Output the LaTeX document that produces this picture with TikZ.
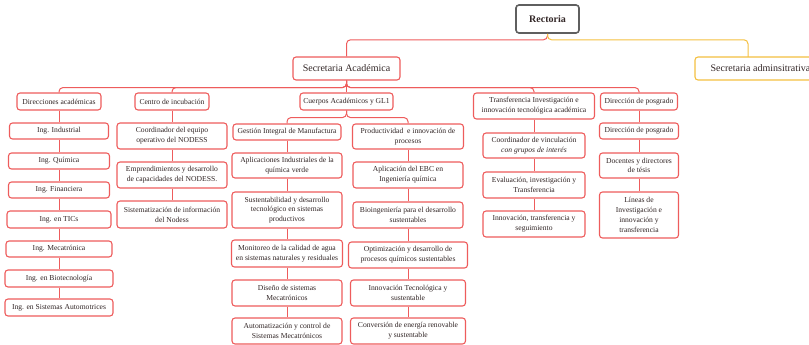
\documentclass[tikz,border=0pt]{standalone}
\usepackage{fontspec}
\setmainfont{Liberation Serif}
\usepackage{xcolor}
\usepackage{tikz}
\usetikzlibrary{positioning}

\definecolor{rojo}{RGB}{238,92,92}
\definecolor{amarillo}{RGB}{244,192,64}
\definecolor{gris}{RGB}{95,95,95}
\definecolor{texto}{RGB}{50,38,38}

\begin{document}
\begin{tikzpicture}
                [x={(1pt,0)}, y={(0,-1pt)},
                 box/.style = {draw=rojo, line width=1.1pt, rounded corners=3pt, fill=white, text=texto, align=center, inner sep=1pt, font=\fontsize{7.6}{9.8}\selectfont},
                 big/.style = {box, font=\fontsize{10}{12}\selectfont},
                 top/.style = {box, draw=gris, line width=1.6pt, font=\bfseries\fontsize{10}{12}\selectfont},
                 sz/.style 2 args = {minimum width=#1pt, minimum height=#2pt},
                 link/.style = {draw=rojo, line width=1pt, rounded corners=4pt}]
                \clip (0,0) rectangle (809,345);
                % Rectoria and the two secretarias
                \node[top, sz={63}{28}] (rect) at (547.5,19) {Rectoria};
                \node[big, sz={107}{23}] (sacad) at (346.5,68.5) {Secretaria Académica};
                \node[big, draw=amarillo, sz={131}{23}] (sadm) at (760.5,68.5) {Secretaria adminsitrativa};
                \coordinate (sadmtop) at (748,57);
                % Areas under Secretaria Academica
                \node[box, sz={84}{17}] (dacad) at (59,101.5) {Direcciones académicas};
                \node[box, sz={74}{17}] (cinc) at (172,101.5) {Centro de incubación};
                \node[box, sz={93}{17}] (cuer) at (346.5,101.5) {Cuerpos Académicos y GL1};
                \node[box, sz={121}{26}] (trans) at (534,106) {Transferencia Investigación e\\innovación tecnológica académica};
                \node[box, sz={77}{17}] (dpos) at (639,101.5) {Dirección de posgrado};
                % Direcciones academicas
                \node[box, sz={99}{16}] (ind) at (59,131) {Ing. Industrial};
                \node[box, sz={101}{16}] (qui) at (59,161) {Ing. Química};
                \node[box, sz={101}{16}] (fin) at (59,190) {Ing. Financiera};
                \node[box, sz={104}{17}] (tic) at (59,219.5) {Ing. en TICs};
                \node[box, sz={106}{16}] (mec) at (59,249) {Ing. Mecatrónica};
                \node[box, sz={108}{17}] (bio) at (59,278.5) {Ing. en Biotecnología};
                \node[box, sz={108}{17}] (aut) at (59,307.5) {Ing. en Sistemas Automotrices};
                % Centro de incubacion
                \node[box, sz={110}{26}] (coord) at (172,136) {Coordinador del equipo\\operativo del NODESS};
                \node[box, sz={110}{26}] (empr) at (172,175) {Emprendimientos y desarrollo\\de capacidades del NODESS.};
                \node[box, sz={110}{27}] (sist) at (172,214.5) {Sistematización de información\\del Nodess};
                % Cuerpos academicos, left column
                \node[box, sz={108}{16}] (gim) at (287,132) {Gestión Integral de Manufactura};
                \node[box, sz={110}{25}] (aiq) at (287,165.5) {Aplicaciones Industriales de la\\química verde};
                \node[box, sz={110}{36}] (sdt) at (287,210) {Sustentabilidad y desarrollo\\tecnológico en sistemas\\productivos};
                \node[box, sz={111}{27}] (mca) at (287,253.5) {Monitoreo de la calidad de agua\\en sistemas naturales y residuales};
                \node[box, sz={110}{26}] (dsm) at (287,293) {Diseño de sistemas\\Mecatrónicos};
                \node[box, sz={110}{26}] (acs) at (287,331) {Automatización y control de\\Sistemas Mecatrónicos};
                % Cuerpos academicos, right column
                \node[box, sz={111}{25}] (pip) at (408,136.5) {Productividad \ e innovación de\\procesos};
                \node[box, sz={110}{26}] (ebc) at (408,175) {Aplicación del EBC en\\Ingeniería química};
                \node[box, sz={110}{26}] (bds) at (408,215) {Bioingeniería para el desarrollo\\sustentables};
                \node[box, sz={119}{26}] (opt) at (408,255) {Optimización y desarrollo de\\procesos químicos sustentables};
                \node[box, sz={115}{26}] (itec) at (408,293) {Innovación Tecnológica y\\sustentable};
                \node[box, sz={115}{26}] (cer) at (408,331) {Conversión de energía renovable\\y sustentable};
                % Transferencia
                \node[box, sz={102}{25}] (cvg) at (534,145.5) {Coordinador de vinculación\\\textit{con grupos de interés}};
                \node[box, sz={102}{26}] (eit) at (534,185) {Evaluación, investigación y\\Transferencia};
                \node[box, sz={102}{26}] (itr) at (534,224) {Innovación, transferencia y\\seguimiento};
                % Posgrado
                \node[box, sz={79}{16}] (dpos2) at (639,131) {Dirección de posgrado};
                \node[box, sz={79}{25}] (doc) at (639,165.5) {Docentes y directores\\de tésis};
                \node[box, sz={79}{46}] (lin) at (639,215) {Líneas de\\Investigación e\\innovación y\\transferencia};
                % Lines
                \draw[link] (rect.south) -- ++(0,6) -| (sacad.north);
                \draw[link, draw=amarillo] (rect.south) -- ++(0,6) -| (sadmtop);
                \draw[link] (sacad.south) -- ++(0,7) -| (dacad.north);
                \draw[link] (sacad.south) -- ++(0,7) -| (cinc.north);
                \draw[link] (sacad.south) -- ++(0,7) -| (trans.north);
                \draw[link] (sacad.south) -- ++(0,7) -| (dpos.north);
                \path[link] (sacad) edge (cuer);
                \draw[link] (cuer.south) -- ++(0,7) -| (gim.north);
                \draw[link] (cuer.south) -- ++(0,7) -| (pip.north);
                \path[link] (dacad) edge (ind) (ind) edge (qui) (qui) edge (fin) (fin) edge (tic)
                            (tic) edge (mec) (mec) edge (bio) (bio) edge (aut);
                \path[link] (cinc) edge (coord) (coord) edge (empr) (empr) edge (sist);
                \path[link] (gim) edge (aiq) (aiq) edge (sdt) (sdt) edge (mca) (mca) edge (dsm) (dsm) edge (acs);
                \path[link] (pip) edge (ebc) (ebc) edge (bds) (bds) edge (opt) (opt) edge (itec) (itec) edge (cer);
                \path[link] (trans) edge (cvg) (cvg) edge (eit) (eit) edge (itr);
                \path[link] (dpos) edge (dpos2) (dpos2) edge (doc) (doc) edge (lin);
            \end{tikzpicture}
\end{document}
